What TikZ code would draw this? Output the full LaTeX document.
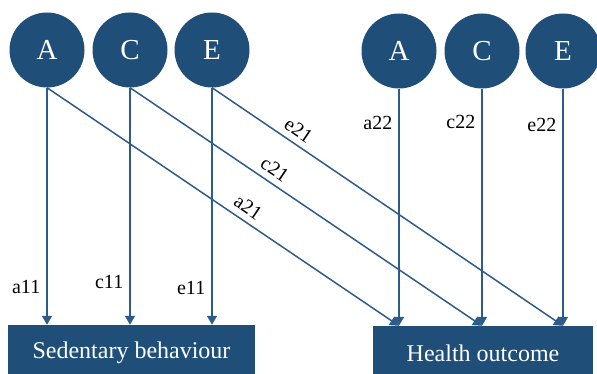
\documentclass[tikz,border=0pt]{standalone}
\usepackage{fontspec}
\setmainfont{Liberation Serif}
\usetikzlibrary{arrows.meta}
\definecolor{acenavy}{RGB}{31,78,121}
\definecolor{loadblue}{RGB}{46,92,138}
\tikzset{
  factor/.style={circle,fill=acenavy,text=white,minimum size=75pt,inner sep=0pt,
    font=\fontsize{29}{29}\selectfont},
  trait/.style={rectangle,fill=acenavy,text=white,inner sep=0pt,
    font=\fontsize{24}{24}\selectfont},
  loading/.style={draw=loadblue,line width=1.5pt,-{Triangle[length=9pt,width=10pt]}},
  coef/.style={font=\fontsize{20}{20}\selectfont,inner sep=2pt},
  coefl/.style={coef,left,xshift=-4pt},
  coefs/.style={coef,sloped,above=4pt}
}

\begin{document}
\begin{tikzpicture}[x=1pt,y=1pt]
  \useasboundingbox (0,0) rectangle (597,374);
  % latent factors
  \node[factor] (A1) at (47,324) {A};
  \node[factor] (C1) at (130,324) {C};
  \node[factor] (E1) at (212,324) {E};
  \node[factor] (A2) at (399,323) {A};
  \node[factor] (C2) at (482,323) {C};
  \node[factor] (E2) at (563,323) {E};
  % observed traits
  \node[trait,minimum width=247pt,minimum height=55pt] (sb) at (131.5,21.5) {Sedentary behaviour};
  \node[trait,minimum width=220pt,minimum height=54pt] (ho) at (483,21) {Health outcome};
  % paths to sedentary behaviour
  \draw[loading] (A1.south) -- node[coefl,pos=0.84] {a11} (A1.south |- sb.north);
  \draw[loading] (C1.south) -- node[coefl,pos=0.82] {c11} (C1.south |- sb.north);
  \draw[loading] (E1.south) -- node[coefl,pos=0.845] {e11} (E1.south |- sb.north);
  % cross paths
  \draw[loading] (A1.south) -- node[coefs,pos=0.55] {a21} (A2.south |- ho.north);
  \draw[loading] (C1.south) -- node[coefs,pos=0.39] {c21} (C2.south |- ho.north);
  \draw[loading] (E1.south) -- node[coefs,pos=0.225] {e21} (E2.south |- ho.north);
  % paths to health outcome
  \draw[loading] (A2.south) -- node[coefl,pos=0.145] {a22} (A2.south |- ho.north);
  \draw[loading] (C2.south) -- node[coefl,pos=0.14] {c22} (C2.south |- ho.north);
  \draw[loading] (E2.south) -- node[coefl,pos=0.155] {e22} (E2.south |- ho.north);
\end{tikzpicture}
\end{document}
